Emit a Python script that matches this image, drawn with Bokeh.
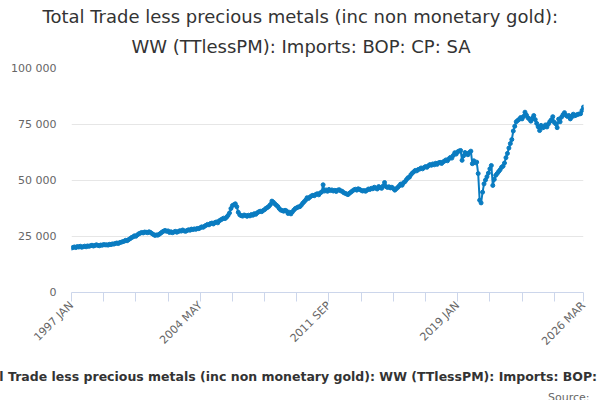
from math import pi

from bokeh.embed import file_html
from bokeh.models import ColumnDataSource, FixedTicker, Range1d, Title
from bokeh.plotting import figure
from bokeh.resources import INLINE

TITLE_1 = "Total Trade less precious metals (inc non monetary gold):"
TITLE_2 = "WW (TTlessPM): Imports: BOP: CP: SA"
FOOT = "Total Trade less precious metals (inc non monetary gold): WW (TTlessPM): Imports: BOP: CP: SA"
SOURCE = "Source:"

START_YEAR = 1997
MONTHS = ["JAN", "FEB", "MAR", "APR", "MAY", "JUN",
          "JUL", "AUG", "SEP", "OCT", "NOV", "DEC"]

# monthly values, £ million, 1997 JAN .. 2026 MAR
imports = [
    19850, 20100, 20350, 20050, 20500, 20300, 20650, 20200, 20450, 20700, 20400, 20800,  # 1997
    20600, 20900, 21100, 20750, 21000, 21300, 21050, 20850, 21200, 21100, 21400, 21250,  # 1998
    21300, 21150, 21500, 21400, 21700, 21600, 21900, 22100, 21850, 22300, 22450, 22700,  # 1999
    22900, 23300, 23100, 23600, 24000, 24500, 24800, 25300, 25100, 25700, 26200, 26500,  # 2000
    26800, 26600, 27000, 26900, 26700, 27100, 26800, 26300, 25900, 25500, 25700, 25600,  # 2001
    26000, 26500, 27000, 27400, 27700, 27300, 27500, 26800, 27100, 26700, 27000, 27300,  # 2002
    26900, 27200, 27600, 27400, 27900, 27500, 27300, 27700, 28000, 27800, 28300, 28100,  # 2003
    28400, 28200, 28600, 28500, 28900, 29300, 29100, 29600, 30000, 30400, 30200, 30800,  # 2004
    31000, 30600, 31200, 31500, 31100, 32000, 32400, 32800, 33200, 33000, 33600, 34400,  # 2005
    35500, 37500, 38800, 39200, 39600, 38300, 35800, 34700, 34300, 34100, 34600, 34400,  # 2006
    34000, 34500, 34200, 34800, 34500, 35200, 34900, 35600, 36000, 36300, 36100, 36600,  # 2007
    37000, 37600, 38000, 38500, 39300, 40800, 40300, 39600, 39000, 38400, 37500, 36800,  # 2008
    36600, 36300, 36700, 36400, 35300, 35800, 35100, 36000, 36800, 37500, 37800, 38200,  # 2009
    38300, 38900, 39800, 40500, 41200, 42300, 42000, 42600, 43100, 43400, 43200, 43800,  # 2010
    44100, 43600, 44400, 44900, 48100, 45300, 45800, 45200, 46000, 45500, 45800, 45300,  # 2011
    45600, 45100, 45700, 45900, 45400, 45200, 44600, 44300, 44000, 43700, 44300, 44800,  # 2012
    45300, 45800, 46100, 45700, 46300, 46000, 45600, 45300, 45500, 45200, 45700, 46200,  # 2013
    46000, 46500, 46300, 47000, 46600, 46200, 47300, 46800, 46500, 47500, 49100, 47300,  # 2014
    46900, 47200, 46700, 47000, 46400, 45700, 46300, 46900, 47600, 48400, 47900, 49000,  # 2015
    49500, 50400, 51200, 51500, 52600, 53300, 53900, 54500, 54300, 54900, 55100, 55600,  # 2016
    55200, 55800, 56200, 55900, 56600, 57100, 56800, 57400, 57000, 57700, 57200, 57900,  # 2017
    58100, 57600, 58300, 58700, 59200, 58800, 59700, 60300, 60000, 61200, 62400, 61800,  # 2018
    62800, 63200, 63400, 59000, 61000, 62500, 62000, 61500, 62500, 63100, 57500, 58800,  # 2019
    57900, 58200, 53100, 41200, 40000, 44800, 48500, 50200, 51700, 53300, 55200, 56700,  # 2020
    47800, 50500, 52300, 53100, 54000, 54800, 55900, 56400, 57800, 60200, 62100, 64500,  # 2021
    66500, 68300, 72100, 74200, 76200, 76800, 77300, 78100, 77500, 78600, 80500, 79200,  # 2022
    78000, 77400, 76500, 77800, 79000, 77200, 75500, 74000, 72300, 74600, 73500, 73800,  # 2023
    74800, 73900, 75200, 76300, 77100, 78500, 76000, 75300, 73600, 77400, 76200, 78300,  # 2024
    79400, 80300, 79100, 78600, 79000, 77500, 78400, 79600, 78900, 79200, 79500, 79700,  # 2025
    79800, 81300, 82800,                                                                  # 2026
]

y_ticks = [0, 25000, 50000, 75000, 100000]

idx = list(range(len(imports)))
labels = [f"{START_YEAR + i // 12} {MONTHS[i % 12]}" for i in idx]
last = idx[-1]

x_ticks = list(range(0, last - 1, 22)) + [last]
shown = [0, 88, 176, 264, last]

source = ColumnDataSource(data=dict(x=idx, y=imports, label=labels))

p = figure(width=600, height=400, output_backend="svg", toolbar_location=None,
           x_range=Range1d(0, last), y_range=Range1d(0, 100000),
           min_border_left=71, min_border_right=17, min_border_top=67,
           min_border_bottom=108)
p.outline_line_color = None
p.background_fill_color = "white"
p.border_fill_color = "white"

p.line("x", "y", source=source, line_color="#0a7cc1", line_width=2)
p.scatter("x", "y", source=source, size=4, fill_color="#0a7cc1",
          line_color="#0a7cc1")

# x axis
xa = p.xaxis[0]
xa.ticker = FixedTicker(ticks=x_ticks)
xa.major_label_overrides = {t: (labels[t] if t in shown else "") for t in x_ticks}
xa.major_label_orientation = pi / 4
xa.axis_line_color = "#ccd6eb"
xa.major_tick_line_color = "#ccd6eb"
xa.major_tick_in = 0
xa.major_tick_out = 9
xa.minor_tick_line_color = None
xa.major_label_text_font = "DejaVu Sans"
xa.major_label_text_font_size = "11px"
xa.major_label_text_color = "#666666"
xa.major_label_standoff = 2
p.xgrid.grid_line_color = None

# y axis
ya = p.yaxis[0]
ya.ticker = FixedTicker(ticks=y_ticks)
ya.major_label_overrides = {t: f"{t:,}".replace(",", " ") for t in y_ticks}
ya.axis_line_color = None
ya.major_tick_line_color = None
ya.major_tick_in = 0
ya.major_tick_out = 0
ya.minor_tick_line_color = None
ya.major_label_text_font = "DejaVu Sans"
ya.major_label_text_font_size = "11px"
ya.major_label_text_color = "#666666"
ya.major_label_standoff = 15
p.ygrid.grid_line_color = "#e6e6e6"
p.ygrid.ticker = FixedTicker(ticks=y_ticks)

# titles (added from the frame outwards), centred on the whole chart
title_style = dict(align="left", text_font="DejaVu Sans", text_font_size="18px",
                   text_font_style="normal", text_color="#333333")
p.add_layout(Title(text=TITLE_2, standoff=23, offset=60, **title_style), "above")
p.add_layout(Title(text=TITLE_1, standoff=-9.5, offset=-29, **title_style), "above")
p.add_layout(Title(text=" ", text_font_size="3px", standoff=3), "above")

p.add_layout(Title(text=FOOT, align="left", offset=-102, text_font="DejaVu Sans",
                   text_font_size="12.5px", text_font_style="bold",
                   text_color="#333333", standoff=23), "below")
p.add_layout(Title(text=SOURCE, align="right", offset=-6, text_font="DejaVu Sans",
                   text_font_size="11px", text_font_style="normal",
                   text_color="#666666", standoff=-16), "below")

open("out.html", "w").write(file_html(p, INLINE))
